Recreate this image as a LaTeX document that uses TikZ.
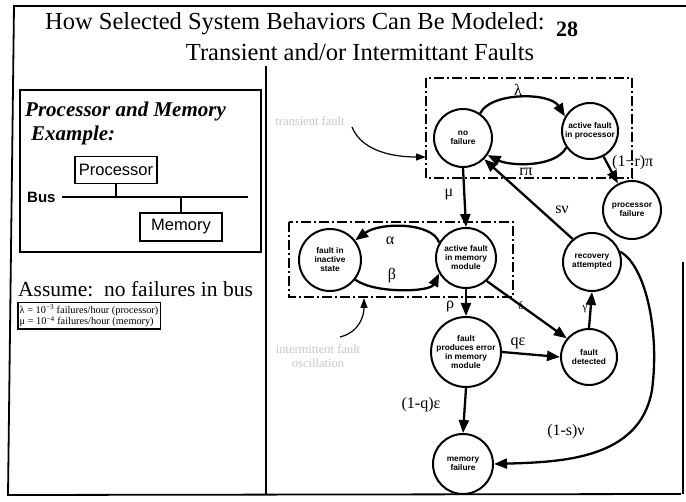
\documentclass[tikz,border=0pt]{standalone}
\usepackage{fontspec}
\setmainfont{Liberation Serif}
\setsansfont{Liberation Sans}
\usetikzlibrary{arrows.meta}

\begin{document}
\begin{tikzpicture}[x=1pt,y=-1pt,
  state/.style={circle,draw,line width=2pt,minimum size=58pt,inner sep=0pt,align=center,
    font=\sffamily\bfseries\fontsize{8.3}{9}\selectfont},
  trans/.style={line width=2.3pt,-{Triangle[length=13pt,width=10pt]}},
  note/.style={line width=1.2pt,-{Triangle[length=10pt,width=7pt]}},
  grp/.style={line width=1.4pt,dash pattern=on 10pt off 3pt on 2pt off 3pt},
  lbl/.style={font=\fontsize{16}{16}\selectfont,inner sep=1pt},
  faint/.style={text=black!22,font=\fontsize{12.5}{14}\selectfont,align=center},
  hw/.style={draw,line width=1.8pt,font=\sffamily\fontsize{16.5}{16.5}\selectfont,inner sep=2pt},
]
\useasboundingbox (0,0) rectangle (686,502);
\fill[white] (0,0) rectangle (686,502);

% page frame
\draw[line width=1.8pt] (686,6) -- (14,6) -- (8,495) -- (681,494);
\draw[line width=1.8pt] (683,262) -- (683,494);
% column divider
\draw[line width=2.4pt] (266,66) -- (266,495);

% heading
\node[anchor=base west,font=\fontsize{24.5}{26}\selectfont,inner sep=0pt] (t1) at (45,30)
  {How Selected System Behaviors Can Be Modeled:};
\node[anchor=base west,font=\bfseries\fontsize{22}{22}\selectfont,inner sep=0pt] (pg) at (556,37) {28};
\node[anchor=base,font=\fontsize{24.5}{26}\selectfont,inner sep=0pt] (t2) at (360,61)
  {Transient and/or Intermittant Faults};

% example panel
\draw[line width=2pt] (20,90) rectangle (261,252);
\node[anchor=base west,font=\bfseries\itshape\fontsize{21}{21}\selectfont,inner sep=0pt] (ex1) at (25,117) {Processor and Memory};
\node[anchor=base west,font=\bfseries\itshape\fontsize{21}{21}\selectfont,inner sep=0pt] (ex2) at (31,141) {Example:};
\node[hw,minimum width=82pt,minimum height=27pt] (proc) at (116,170) {Processor};
\node[hw,minimum width=82pt,minimum height=28pt] (memhw) at (181,227) {Memory};
\coordinate (busL) at (62,197);
\coordinate (busR) at (248,197);
\draw[line width=2pt] (busL) -- (busR);
\node[anchor=base west,font=\sffamily\bfseries\fontsize{15}{15}\selectfont,inner sep=0pt] (buslbl) at (27,203) {Bus};
\draw[line width=1.8pt] (proc.south) -- (proc.south |- busL);
\draw[line width=1.8pt] (memhw.north) -- (memhw.north |- busL);

\node[anchor=base west,font=\fontsize{21.5}{21.5}\selectfont,inner sep=0pt] (assume) at (18,297) {Assume:\ \ no failures in bus};
\node[draw,line width=1.5pt,anchor=north west,align=left,font=\fontsize{10.3}{11.5}\selectfont,inner sep=2pt] (rates) at (17,302)
  {λ = 10\textsuperscript{−3} failures/hour (processor)\\μ = 10\textsuperscript{−4} failures/hour (memory)};

% fault groups
\draw[grp] (426,78) rectangle (632,178);
\draw[grp] (289,222) rectangle (513,297);

% states
\node[state] (nofail) at (463,138) {no\\failure};
\node[state,minimum size=56pt] (apf) at (590,131) {active fault\\in processor};
\node[state] (pfail) at (632,210) {processor\\failure};
\node[state,minimum size=60pt] (amem) at (466,258) {active fault\\in memory\\module};
\node[state] (rec) at (592,262) {recovery\\attempted};
\node[state,minimum size=62pt] (inact) at (330,260) {fault in\\inactive\\state};
\node[state,minimum size=70pt] (fpe) at (466,352) {fault\\produces error\\in memory\\module};
\node[state,minimum size=56pt] (fdet) at (589,357) {fault\\detected};
\node[state,minimum size=60pt] (mfail) at (463,464) {memory\\failure};

% transitions
\draw[trans] (nofail.55) .. controls (490,92) and (550,92) .. (apf.150);
\node[lbl] (llam) at (518,90) {λ};
\draw[trans] (apf.215) .. controls (555,168) and (510,166) .. (nofail.-35);
\node[lbl] (lrpi) at (526,172) {rπ};
\draw[trans] (apf.-62) -- (pfail.118);
\node[lbl,anchor=west] (l1rpi) at (611,163) {(1−r)π};
\draw[trans] (nofail.south) -- (amem.north);
\node[lbl] (lmu) at (449,195) {μ};
\draw[trans] (amem.150) .. controls (432,222) and (380,222) .. (inact.38);
\node[lbl] (lalpha) at (390,241) {α};
\draw[trans] (inact.-38) .. controls (375,294) and (430,292) .. (amem.-150);
\node[lbl] (lbeta) at (392,276) {β};
\draw[trans] (amem.south) -- (fpe.north);
\node[lbl] (lrho) at (450,306) {ρ};
\draw[trans] (amem.-48) -- (fdet.140);
\node[font=\fontsize{11}{11}\selectfont,inner sep=0pt] (ldelta) at (521,306) {δ};
\draw[trans] (fpe.east) -- (fdet.west);
\node[lbl] (lqe) at (518,343) {qε};
\draw[trans] (fdet.north) -- (rec.south);
\node[font=\fontsize{11}{11}\selectfont,inner sep=0pt] (lgamma) at (585,309) {γ};
\draw[trans] (rec.130) -- (nofail.-45);
\node[lbl] (lsnu) at (562,210) {sν};
\draw[trans] (rec.20) .. controls (645,265) and (660,330) .. (652,390)
  .. controls (640,460) and (560,462) .. (mfail.east);
\node[lbl] (l1snu) at (566,432) {(1-s)ν};
\draw[trans] (fpe.south) -- (mfail.north);
\node[lbl] (l1qe) at (421,405) {(1-q)ε};

% annotations
\node[faint] (transnote) at (310,121) {transient fault};
\draw[note] (352,127) .. controls (362,152) and (395,157) .. (426,157);
\node[faint] (intnote) at (318,356) {intermittent fault\\oscillation};
\draw[note] (340,337) .. controls (360,332) and (364,315) .. (364,298);
\end{tikzpicture}
\end{document}
